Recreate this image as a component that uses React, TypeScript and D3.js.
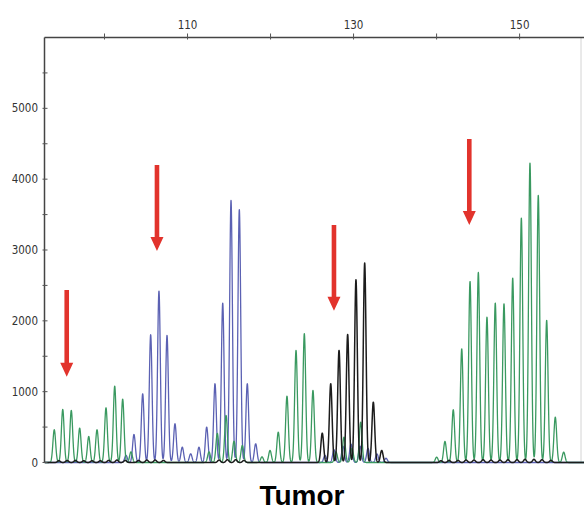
import React from 'react';
import * as d3 from 'd3';

const W = 584;
const H = 511;

// axis ticks
const xTicks = [100, 110, 120, 130, 140, 150];
const xTickLabels = [110, 130, 150];
const yTicks = [0, 500, 1000, 1500, 2000, 2500, 3000, 3500, 4000, 4500, 5000, 5500];
const yTickLabels = [0, 1000, 2000, 3000, 4000, 5000];

// green dye peaks (size in bp, height in RFU)
const greenPos = [93.95, 94.97, 96.0, 97.01, 98.1, 99.1, 100.18, 101.23, 102.19,
  103.19, 112.59, 113.59, 114.64, 115.6, 116.6,
  118.97, 119.94, 120.93, 121.98, 123.07, 124.07, 125.11, 127.88, 128.85, 129.81, 130.86,
  140.01, 141.01, 142.01, 143.03, 144.03, 145.03, 146.07, 147.07, 148.12, 149.17, 150.21, 151.25, 152.25, 153.26, 154.3, 155.31];
const greenHeight = [462, 749, 734, 485, 367, 462, 772, 1078, 894,
  150, 150, 410, 664, 300, 240,
  80, 170, 428, 936, 1582, 1818, 1017, 150, 357, 200, 570,
  75, 297, 744, 1605, 2556, 2683, 2052, 2250, 2241, 2603, 3450, 4227, 3771, 2006, 640, 146];

// blue dye peaks
const bluePos = [102.59, 103.55, 104.6, 105.56, 106.56, 107.53, 108.49, 109.37, 110.38, 111.38,
  112.31, 113.31, 114.24, 115.24, 116.24, 117.2, 118.21,
  126.56, 127.64, 128.73, 129.69, 130.78, 131.74, 132.82, 133.91];
const blueHeight = [100, 395, 970, 1804, 2420, 1794, 547, 216, 123, 216,
  500, 1112, 2250, 3700, 3570, 1112, 264,
  100, 180, 230, 260, 230, 200, 120, 60];

// black dye peaks
const blackPos = [126.23, 127.25, 128.25, 129.29, 130.29, 131.34, 132.38, 133.39,
  94.5, 95.5, 96.5, 97.5, 98.5, 99.5, 100.5, 101.5, 102.5,
  104.1, 105.1, 106.1, 107.1, 113.8, 114.8, 115.8, 116.8,
  140.53, 141.5, 142.58, 143.55, 144.51, 145.6, 146.56, 147.64, 148.6, 149.69, 150.65, 151.73, 152.7, 153.78];
const blackHeight = [414, 1112, 1582, 1808, 2580, 2815, 852, 170,
  25, 30, 30, 25, 25, 25, 30, 35, 30,
  30, 35, 35, 30, 35, 40, 40, 30,
  25, 30, 30, 35, 35, 40, 35, 35, 40, 40, 45, 45, 40, 30];

// annotation arrows: x in bp, top and tip in RFU
const arrowX = [95.45, 106.32, 127.64, 143.94];
const arrowTop = [2435, 4200, 3353, 4567];
const arrowTip = [1211, 2986, 2143, 3353];

const xScale = d3.scaleLinear().domain([100, 150]).range([104.5, 519.6]);
const yScale = d3.scaleLinear().domain([0, 6000]).range([462.5, 37.5]);

const AXIS_X = 44.5;
const SIGMA = 0.165;

function buildTrace(pos: number[], hts: number[]): [number, number][] {
  const x0 = xScale.invert(AXIS_X);
  const x1 = xScale.invert(W + 2);
  const pts: [number, number][] = [];
  for (let x = x0; x <= x1; x += 0.012) {
    let y = 0;
    for (let i = 0; i < pos.length; i++) {
      const d = (x - pos[i]) / SIGMA;
      if (Math.abs(d) < 8) y += hts[i] * Math.exp(-0.5 * d * d);
    }
    pts.push([x, y]);
  }
  return pts;
}

const line = d3.line<[number, number]>()
  .x((d) => xScale(d[0]))
  .y((d) => yScale(d[1]));

export default function App() {
  const green = buildTrace(greenPos, greenHeight);
  const blue = buildTrace(bluePos, blueHeight);
  const black = buildTrace(blackPos, blackHeight);
  const topY = yScale(6000);
  const baseY = yScale(0);
  const tickFont = "'DejaVu Sans Condensed', 'DejaVu Sans', sans-serif";

  return (
    <svg width={W} height={H} style={{ position: 'absolute', left: 0, top: 0, background: '#fff' }}>
      <defs>
        <clipPath id="plot">
          <rect x={AXIS_X} y={topY - 2} width={W - AXIS_X} height={baseY - topY + 8} />
        </clipPath>
      </defs>
      <rect x={0} y={0} width={W} height={H} fill="#fff" />
      {/* faint right border */}
      <line x1={581} x2={581} y1={topY} y2={baseY} stroke="#d4d4d4" strokeWidth={1} />
      {/* traces */}
      <g clipPath="url(#plot)" fill="none" strokeLinejoin="round">
        <path d={line(blue) || ''} stroke="#5b61b3" strokeWidth={1.3} />
        <path d={line(green) || ''} stroke="#3a9960" strokeWidth={1.3} />
        <path d={line(black) || ''} stroke="#1c1c1c" strokeWidth={1.5} />
      </g>
      {/* top axis */}
      <line x1={AXIS_X} x2={W} y1={topY} y2={topY} stroke="#444" strokeWidth={1.5} />
      {xTicks.map((t) => (
        <line key={'xt' + t} x1={xScale(t)} x2={xScale(t)} y1={topY - 4} y2={topY + 2} stroke="#555" strokeWidth={1} />
      ))}
      {xTickLabels.map((t) => (
        <text key={'xl' + t} x={xScale(t)} y={topY - 9} textAnchor="middle" fontFamily={tickFont} fontSize={11.5} fill="#333">
          {t}
        </text>
      ))}
      {/* left axis */}
      <line x1={AXIS_X} x2={AXIS_X} y1={topY} y2={baseY} stroke="#444" strokeWidth={1.5} />
      {yTicks.map((t) => (
        <line key={'yt' + t} x1={AXIS_X - 2} x2={AXIS_X + 3} y1={yScale(t)} y2={yScale(t)} stroke="#555" strokeWidth={1} />
      ))}
      {yTickLabels.map((t) => (
        <text key={'yl' + t} x={38} y={yScale(t)} dy="0.36em" textAnchor="end" fontFamily={tickFont} fontSize={11.5} fill="#333">
          {t}
        </text>
      ))}
      {/* arrows */}
      {arrowX.map((a, i) => {
        const x = xScale(a);
        const yTop = yScale(arrowTop[i]);
        const yTip = yScale(arrowTip[i]);
        const headH = 14;
        const headW = 6.5;
        const sw = 2.3;
        const d = `M${x - sw},${yTop} L${x + sw},${yTop} L${x + sw},${yTip - headH} L${x + headW},${yTip - headH} L${x},${yTip} L${x - headW},${yTip - headH} L${x - sw},${yTip - headH} Z`;
        return <path key={'ar' + i} d={d} fill="#e2332c" />;
      })}
      {/* title */}
      <text x={302} y={505} textAnchor="middle" fontFamily="'Liberation Sans', Arial, sans-serif" fontWeight="bold" fontSize={28} fill="#000">
        Tumor
      </text>
    </svg>
  );
}
